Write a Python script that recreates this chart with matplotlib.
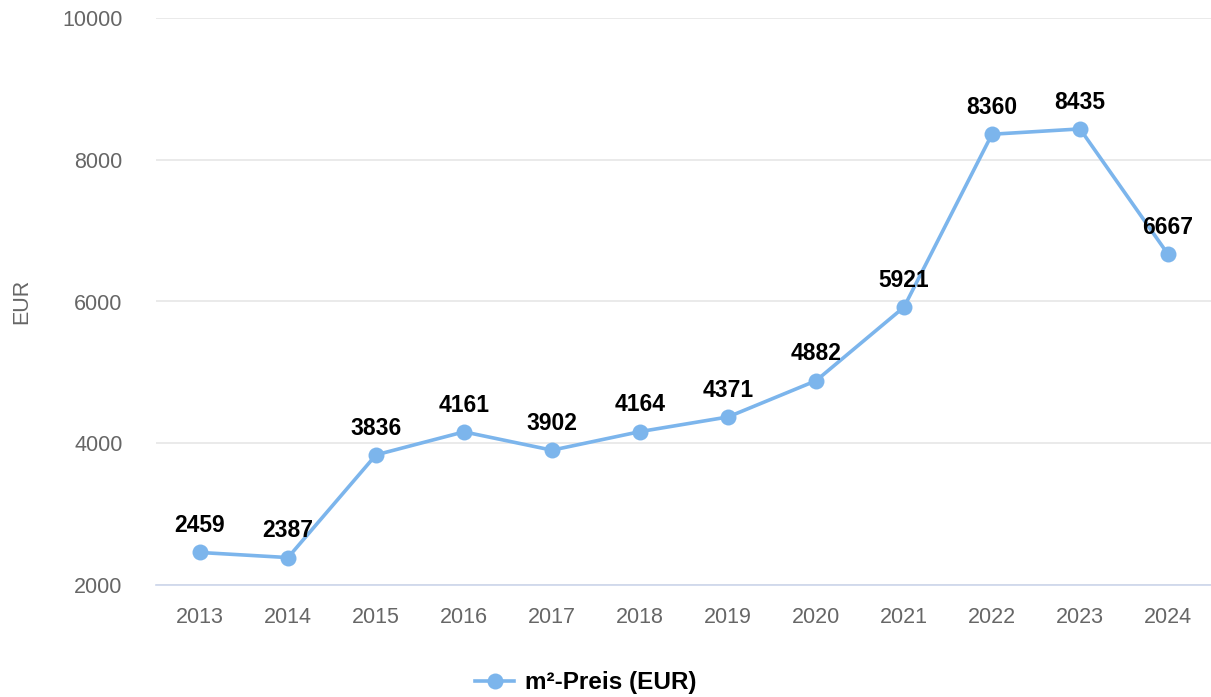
import matplotlib
matplotlib.use("Agg")
import matplotlib.pyplot as plt

# data
years = ["2013", "2014", "2015", "2016", "2017", "2018",
         "2019", "2020", "2021", "2022", "2023", "2024"]
prices = [2459, 2387, 3836, 4161, 3902, 4164, 4371, 4882, 5921, 8360, 8435, 6667]
yticks = [2000, 4000, 6000, 8000, 10000]

plt.rcParams["font.family"] = ["Liberation Sans", "DejaVu Sans"]

W, H = 1211, 697
fig = plt.figure(figsize=(W / 100, H / 100), dpi=100)
ax = fig.add_axes([156 / W, 1 - 585 / H, 1056 / W, (585 - 18) / H])

xs = list(range(len(years)))
line, = ax.plot(xs, prices, color="#7cb5ec", lw=2.6, marker="o",
                markersize=11.5, markeredgewidth=0, label="m²-Preis (EUR)",
                zorder=3, clip_on=False)

for x, v in zip(xs, prices):
    ax.annotate(str(v), (x, v), xytext=(0, 11), textcoords="offset points",
                ha="center", va="bottom", fontsize=16.5, fontweight="bold",
                color="black", zorder=4)

ax.set_xlim(-0.5, len(years) - 0.5)
ax.set_ylim(2000, 10000)
ax.set_xticks(xs)
ax.set_xticklabels(years)
ax.set_yticks(yticks)
ax.set_yticklabels([str(t) for t in yticks])

ax.grid(axis="y", color="#e6e6e6", lw=1.2)
ax.set_axisbelow(True)
for s in ["top", "right", "left"]:
    ax.spines[s].set_visible(False)
ax.spines["bottom"].set_color("#ccd6eb")
ax.spines["bottom"].set_linewidth(1.2)

ax.tick_params(axis="both", length=0, labelsize=15.5, labelcolor="#666666")
ax.tick_params(axis="y", pad=24)
ax.tick_params(axis="x", pad=16)

ax.set_ylabel("EUR", fontsize=15.5, color="#666666")
ax.yaxis.set_label_coords(-0.117, 0.5)

leg = fig.legend(handles=[line], loc="center", bbox_to_anchor=(586 / W, 1 - 683 / H),
                 frameon=False, prop={"size": 17.5, "weight": "bold"},
                 handlelength=1.6, handletextpad=0.45)

fig.savefig("out.png", dpi=100)
